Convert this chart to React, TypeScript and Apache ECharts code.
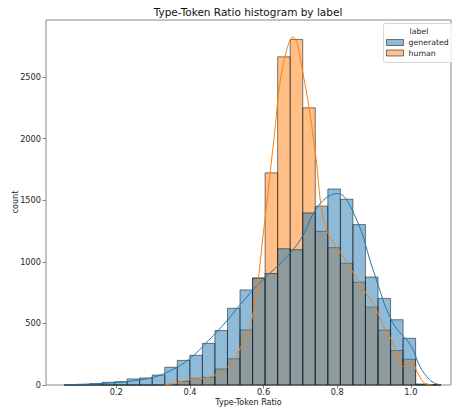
import React, { useEffect, useRef } from "react";
import * as echarts from "echarts";

// Histogram bins (30 equal-width bins)
const BIN_START = 0.059;
const BIN_WIDTH = 0.03407;

const generatedCounts = [
  3, 5, 11, 22, 27, 49, 57, 81, 144, 200,
  241, 338, 442, 623, 772, 865, 905, 1106, 1098, 1397,
  1452, 1591, 1508, 1302, 876, 703, 530, 379, 8, 4,
];
const humanCounts = [
  0, 0, 0, 0, 0, 0, 0, 0, 5, 28,
  54, 62, 130, 213, 447, 870, 1722, 2664, 2805, 2250,
  1247, 1115, 988, 834, 632, 445, 280, 209, 2, 0,
];

// KDE curves (x, count)
const generatedKdeX = [0.06, 0.1, 0.15, 0.2, 0.25, 0.3, 0.35, 0.4, 0.45, 0.5, 0.55, 0.6, 0.65, 0.7, 0.75, 0.8, 0.85, 0.9, 0.95, 1.0, 1.025, 1.05, 1.066, 1.08];
const generatedKdeY = [2, 5, 10, 20, 35, 62, 120, 215, 360, 520, 700, 860, 1000, 1180, 1460, 1555, 1360, 910, 510, 320, 149, 45, 14, 2];
const humanKdeX = [0.33, 0.36, 0.4, 0.45, 0.5, 0.54, 0.57, 0.6, 0.63, 0.65, 0.68, 0.71, 0.74, 0.76, 0.78, 0.81, 0.84, 0.87, 0.9, 0.925, 0.95, 0.98, 1.0, 1.02, 1.04, 1.06];
const humanKdeY = [0, 15, 45, 62, 140, 320, 560, 1250, 2050, 2550, 2825, 2480, 1900, 1380, 1200, 1070, 930, 780, 650, 480, 350, 150, 190, 90, 8, 0];

const xTicks = [0.2, 0.4, 0.6, 0.8, 1.0];
const yTicks = [0, 500, 1000, 1500, 2000, 2500];

const FONT = "DejaVu Sans";
const BLUE = "#1f77b4";
const ORANGE = "#ff7f0e";

function binData(counts: number[]) {
  return counts.map((c, i) => [BIN_START + i * BIN_WIDTH, BIN_START + (i + 1) * BIN_WIDTH, c]);
}

function histSeries(name: string, counts: number[], fill: string, color: string, z: number) {
  return {
    name,
    type: "custom",
    z,
    itemStyle: { color },
    encode: { x: [0, 1], y: 2 },
    data: binData(counts),
    renderItem: (params: any, api: any) => {
      const x0 = api.value(0);
      const x1 = api.value(1);
      const c = api.value(2);
      const p0 = api.coord([x0, c]);
      const p1 = api.coord([x1, 0]);
      return {
        type: "rect",
        shape: { x: p0[0], y: p0[1], width: p1[0] - p0[0], height: p1[1] - p0[1] },
        style: { fill, stroke: "rgba(20,20,20,0.55)", lineWidth: 1 },
      };
    },
  };
}

export default function App() {
  const ref = useRef<HTMLDivElement>(null);
  useEffect(() => {
    if (!ref.current) return;
    const chart = echarts.init(ref.current, null, { renderer: "svg" });
    chart.setOption({
      animation: false,
      textStyle: { fontFamily: FONT },
      title: {
        text: "Type-Token Ratio histogram by label",
        left: 248,
        top: 6,
        padding: 0,
        textAlign: "center",
        textStyle: { fontFamily: FONT, fontSize: 10.5, fontWeight: "normal", color: "#111" },
      },
      grid: {
        left: 46,
        top: 20,
        right: 1,
        bottom: 22,
        show: true,
        containLabel: false,
        outerBoundsMode: "none",
        borderColor: "#888",
        borderWidth: 1,
        backgroundColor: "transparent",
      },
      legend: {
        orient: "vertical",
        left: 386,
        top: 38.5,
        padding: 0,
        z: 6,
        itemWidth: 17,
        itemHeight: 6,
        itemGap: 2.5,
        icon: "rect",
        textStyle: { fontFamily: FONT, fontSize: 7.8, color: "#222" },
        data: [
          { name: "generated", itemStyle: { color: "rgba(31,119,180,0.5)", borderColor: "rgba(20,20,20,0.55)", borderWidth: 1 } },
          { name: "human", itemStyle: { color: "rgba(255,127,14,0.5)", borderColor: "rgba(20,20,20,0.55)", borderWidth: 1 } },
        ],
      },
      graphic: [
        {
          type: "rect",
          z: 3,
          shape: { x: 383.5, y: 23.5, width: 72, height: 39, r: 2 },
          style: { fill: "rgba(255,255,255,0.8)", stroke: "#d6d6d6", lineWidth: 1 },
        },
        {
          type: "text",
          z: 7,
          x: 419,
          y: 31,
          style: { text: "label", fontFamily: FONT, fontSize: 7.8, fill: "#222", align: "center", verticalAlign: "middle" },
        },
        {
          type: "text",
          z: 7,
          x: 248.5,
          y: 402.5,
          style: { text: "Type-Token Ratio", fontFamily: FONT, fontSize: 8, fill: "#222", align: "center", verticalAlign: "middle" },
        },
        {
          type: "text",
          z: 7,
          x: 15,
          y: 202,
          rotation: Math.PI / 2,
          style: { text: "count", fontFamily: FONT, fontSize: 8, fill: "#222", align: "center", verticalAlign: "middle" },
        },
      ],
      xAxis: {
        type: "value",
        min: 0.009,
        max: 1.109,
        splitLine: { show: false },
        axisLine: { show: false },
        axisTick: { show: true, length: 3.5, lineStyle: { color: "#888" }, customValues: xTicks },
        axisLabel: {
          customValues: xTicks,
          formatter: (v: number) => v.toFixed(1),
          fontFamily: FONT,
          fontSize: 8.2,
          color: "#222",
          margin: 3,
        },
      },
      yAxis: {
        type: "value",
        min: 0,
        max: 2963,
        splitLine: { show: false },
        axisLine: { show: false },
        axisTick: { show: true, length: 3.5, lineStyle: { color: "#888" }, customValues: yTicks },
        axisLabel: {
          customValues: yTicks,
          formatter: (v: number) => String(v),
          fontFamily: FONT,
          fontSize: 8.2,
          color: "#222",
          margin: 5,
        },
      },
      series: [
        histSeries("human", humanCounts, "rgba(255,127,14,0.5)", ORANGE, 2),
        histSeries("generated", generatedCounts, "rgba(31,119,180,0.5)", BLUE, 3),
        {
          name: "generated KDE",
          type: "line",
          z: 4,
          smooth: 0.4,
          symbol: "none",
          lineStyle: { color: BLUE, width: 1 },
          itemStyle: { color: BLUE },
          data: generatedKdeX.map((x, i) => [x, generatedKdeY[i]]),
        },
        {
          name: "human KDE",
          type: "line",
          z: 4,
          smooth: 0.4,
          symbol: "none",
          lineStyle: { color: ORANGE, width: 1 },
          itemStyle: { color: ORANGE },
          data: humanKdeX.map((x, i) => [x, humanKdeY[i]]),
        },
      ],
    });
    return () => chart.dispose();
  }, []);
  return (
    <div
      ref={ref}
      style={{ position: "fixed", left: 0, top: 0, width: 452, height: 407, background: "#fff" }}
    />
  );
}
